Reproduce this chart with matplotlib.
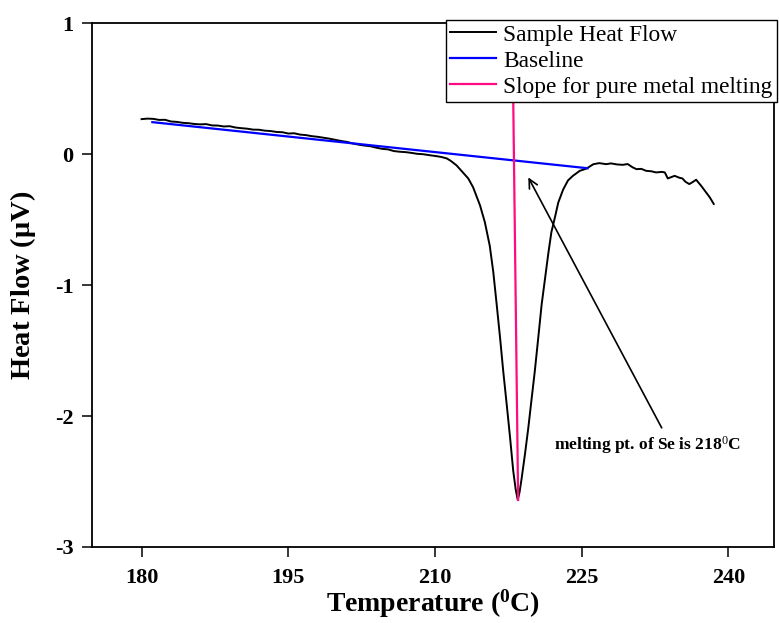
import matplotlib
matplotlib.use("Agg")
import matplotlib.pyplot as plt

plt.rcParams['font.family'] = ['Liberation Serif', 'DejaVu Serif']
plt.rcParams['mathtext.fontset'] = 'custom'
plt.rcParams['mathtext.rm'] = 'Liberation Serif'
plt.rcParams['mathtext.bf'] = 'Liberation Serif:bold'
plt.rcParams['mathtext.it'] = 'Liberation Serif:italic'

# Sample heat flow (temperature in deg C, heat flow in uV)
temp = [180.0, 180.6, 181.2, 181.8, 182.4, 183.0, 183.6, 184.2, 184.8, 185.4,
        186.0, 186.6, 187.2, 187.8, 188.4, 189.0, 189.6, 190.2, 190.8, 191.4,
        192.0, 192.6, 193.2, 193.8, 194.4, 195.0, 195.6, 196.2, 196.8, 197.4,
        198.0, 198.6, 199.2, 199.8, 200.4, 201.0, 201.6, 202.2, 202.8, 203.4,
        204.0, 204.6, 205.2, 205.8, 206.4, 207.0, 207.6, 208.2, 208.8, 209.4,
        210.0, 210.6, 211.2, 211.6, 212.2, 212.8, 213.4, 213.9, 214.6, 215.1,
        215.6, 215.96, 216.31, 216.65, 216.98, 217.33, 217.67, 218.0, 218.25, 218.46,
        218.65, 218.87, 219.2, 219.54, 219.89, 220.2, 220.56, 220.9, 221.25, 221.6,
        221.9, 222.3, 222.6, 223.1, 223.6, 224.1, 224.8, 225.5, 225.9, 226.2,
        226.8, 227.5, 228.0, 228.6, 229.2, 229.7, 230.2, 230.6, 231.1, 231.6,
        232.1, 232.6, 233.2, 233.5, 233.8, 234.5, 235.0, 235.3, 235.6, 236.0,
        236.4, 236.7, 237.2, 237.7, 238.1, 238.5]
heat = [0.268, 0.272, 0.270, 0.262, 0.263, 0.250, 0.247, 0.240, 0.237, 0.231,
        0.228, 0.230, 0.220, 0.219, 0.212, 0.214, 0.204, 0.199, 0.195, 0.188,
        0.187, 0.180, 0.177, 0.170, 0.168, 0.158, 0.160, 0.150, 0.146, 0.138,
        0.133, 0.126, 0.119, 0.110, 0.101, 0.094, 0.082, 0.073, 0.066, 0.061,
        0.050, 0.041, 0.037, 0.024, 0.019, 0.016, 0.010, 0.003, 0.000, -0.007,
        -0.013, -0.020, -0.032, -0.050, -0.085, -0.135, -0.185, -0.253, -0.390, -0.520,
        -0.700, -0.900, -1.150, -1.400, -1.660, -1.910, -2.160, -2.420, -2.560, -2.640,
        -2.580, -2.470, -2.290, -2.090, -1.860, -1.660, -1.400, -1.150, -0.950, -0.750,
        -0.595, -0.470, -0.370, -0.270, -0.200, -0.165, -0.127, -0.109, -0.090, -0.076,
        -0.068, -0.076, -0.070, -0.078, -0.081, -0.075, -0.100, -0.114, -0.112, -0.127,
        -0.130, -0.139, -0.135, -0.139, -0.185, -0.165, -0.180, -0.185, -0.210, -0.228,
        -0.210, -0.195, -0.240, -0.290, -0.330, -0.380]

# Baseline (two end points)
base_t = [181.1, 225.6]
base_h = [0.245, -0.107]

# Slope for pure metal melting (two end points)
slope_t = [217.92, 218.5]
slope_h = [0.9, -2.64]

# Annotation
arrow_tip = (219.54, -0.177)
arrow_tail = (233.18, -2.09)
note_text = r'melting pt. of Se is 218$^{\mathit{0}}$C'
note_pos = (231.7, -2.22)

xticks = [180, 195, 210, 225, 240]
yticks = [-3, -2, -1, 0, 1]

fig = plt.figure(figsize=(7.79, 6.23), dpi=100)
ax = fig.add_axes([91.7/779, 1-547/623, (773.7-91.7)/779, (547-23.3)/623])

l1, = ax.plot(temp, heat, color='black', lw=1.4, label='Sample Heat Flow')
l2, = ax.plot(base_t, base_h, color='#0000ff', lw=1.6, label='Baseline')
l3, = ax.plot(slope_t, slope_h, color='#ff0a80', lw=1.6, label='Slope for pure metal melting')

ax.annotate('', xy=arrow_tip, xytext=arrow_tail,
            arrowprops=dict(arrowstyle='->', lw=1.2, color='black', mutation_scale=16,
                            shrinkA=0, shrinkB=0))
ax.text(note_pos[0], note_pos[1], note_text, fontsize=12.5, fontweight='bold',
        ha='center', va='center')

ax.set_xlim(174.9, 244.63)
ax.set_ylim(-3, 1)
ax.set_xticks(xticks)
ax.set_yticks(yticks)
ax.set_xticklabels([str(v) for v in xticks], fontsize=16, fontweight='bold')
ax.set_yticklabels([str(v) for v in yticks], fontsize=16, fontweight='bold')
ax.tick_params(direction='out', length=7, width=1.1)
ax.tick_params(axis='x', pad=8)
ax.tick_params(axis='y', pad=6)
for s in ax.spines.values():
    s.set_linewidth(1.3)

ax.set_xlabel(r'Temperature ($\mathbf{^0}$C)', fontsize=20, fontweight='bold', labelpad=0)
ax.set_ylabel(r'Heat Flow ($\mathbf{\mu}$V)', fontsize=20.5, fontweight='bold', labelpad=12)

leg = ax.legend(handles=[l1, l2, l3], loc='upper right',
                bbox_to_anchor=(777/779, 1-20/623), bbox_transform=fig.transFigure,
                borderaxespad=0, fontsize=16.8, frameon=True, fancybox=False,
                handlelength=2.0, handletextpad=0.3, labelspacing=0.2,
                borderpad=0.18, framealpha=1)
leg.get_frame().set_edgecolor('black')
leg.get_frame().set_linewidth(1.0)

fig.savefig('out.png', dpi=100)
